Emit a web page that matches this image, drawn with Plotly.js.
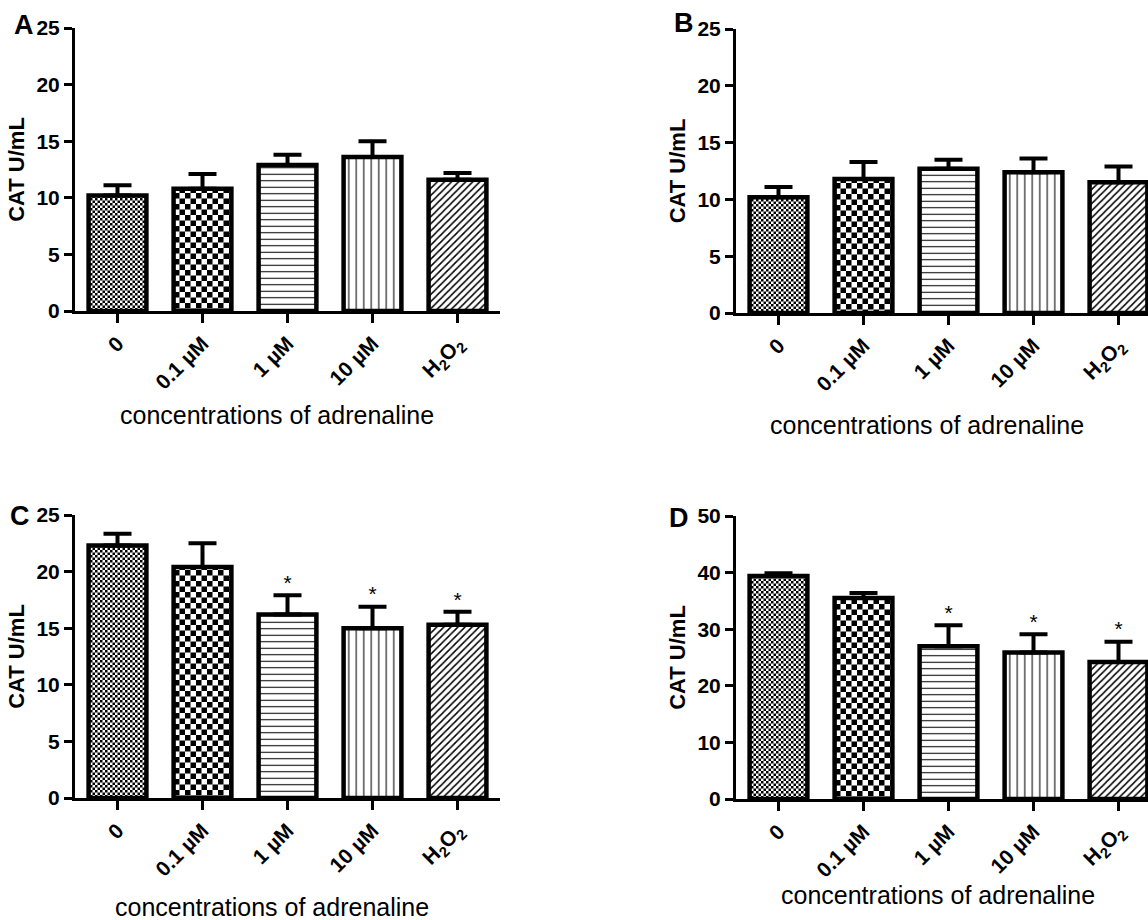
<!DOCTYPE html>
<html>
<head>
<meta charset="utf-8">
<script src="https://cdn.plot.ly/plotly-3.0.1.min.js"></script>
<style>html,body{margin:0;padding:0;background:#fff;}#chart{width:1148px;height:920px;}</style>
</head>
<body>
<div id="chart"></div>
<script>
// ---- data ----
const categories = ["0", "0.1 µM", "1 µM", "10 µM", "H<sub>2</sub>O<sub>2</sub>"];
const panelA_mean = [10.2, 10.8, 12.9, 13.6, 11.6];
const panelA_sem  = [0.9, 1.3, 0.9, 1.4, 0.6];
const panelB_mean = [10.2, 11.8, 12.7, 12.4, 11.5];
const panelB_sem  = [0.9, 1.5, 0.8, 1.2, 1.4];
const panelC_mean = [22.3, 20.4, 16.2, 15.0, 15.3];
const panelC_sem  = [1.05, 2.1, 1.7, 1.9, 1.15];
const panelD_mean = [39.4, 35.5, 27.0, 25.9, 24.2];
const panelD_sem  = [0.5, 0.9, 3.7, 3.2, 3.6];
const panelC_sig  = ["", "", "*", "*", "*"];
const panelD_sig  = ["", "", "*", "*", "*"];
const panelLetters = ["A", "B", "C", "D"];
const yTitle = "CAT U/mL";
const xTitle = "concentrations of adrenaline";

// ---- styling ----
const FONT = "Liberation Sans, Arial, Helvetica, sans-serif";
const patShapes = [".", ".", "-", "|", "/"];
const patSizes = [5, 11, 6.5, 7.5, 5];
const patSolid = [0.5, 0.5, 0.16, 0.14, 0.3];

function barTrace(mean, sem, xa, ya) {
  return {
    type: "bar", x: categories, y: mean, xaxis: xa, yaxis: ya,
    width: 0.68,
    marker: {
      color: "white",
      line: {color: "black", width: 4.5},
      pattern: {shape: patShapes, size: patSizes, solidity: patSolid,
                fgcolor: "black", bgcolor: "white", fillmode: "replace"}
    },
    error_y: {type: "data", symmetric: false, array: sem,
              arrayminus: sem.map(() => 0), color: "black", thickness: 4, width: 14},
    showlegend: false, hoverinfo: "skip"
  };
}
function starTrace(mean, sem, sig, xa, ya) {
  return {
    type: "scatter", mode: "text", x: categories,
    y: mean.map((m, i) => m + sem[i]), text: sig,
    textposition: "top center",
    textfont: {family: FONT, size: 21, color: "black"},
    xaxis: xa, yaxis: ya, showlegend: false, hoverinfo: "skip", cliponaxis: false
  };
}

const data = [
  barTrace(panelA_mean, panelA_sem, "x", "y"),
  barTrace(panelB_mean, panelB_sem, "x2", "y2"),
  barTrace(panelC_mean, panelC_sem, "x3", "y3"),
  starTrace(panelC_mean, panelC_sem, panelC_sig, "x3", "y3"),
  barTrace(panelD_mean, panelD_sem, "x4", "y4"),
  starTrace(panelD_mean, panelD_sem, panelD_sig, "x4", "y4")
];

const W = 1148, H = 920;
function px(v) { return v / W; }
function py(v) { return 1 - v / H; }

function xAxis(x0, x1, rmax, anchor) {
  return {
    domain: [px(x0), px(x1)], range: [-0.5, rmax], anchor: anchor,
    type: "category", showline: true, linecolor: "black", linewidth: 3,
    ticks: "outside", ticklen: 9, tickwidth: 3, tickcolor: "black",
    tickangle: -45, showgrid: false, zeroline: false, fixedrange: true,
    tickfont: {family: FONT, size: 21, color: "black", weight: "bold"}
  };
}
function yAxis(y0, y1, rmax, dtick, anchor) {
  return {
    domain: [py(y0), py(y1)], range: [0, rmax], anchor: anchor,
    showline: true, linecolor: "black", linewidth: 3,
    ticks: "outside", ticklen: 8, tickwidth: 3, tickcolor: "black",
    dtick: dtick, tick0: 0, showgrid: false, zeroline: false, fixedrange: true,
    tickfont: {family: FONT, size: 21, color: "black", weight: "bold"},
    title: {text: yTitle, standoff: 6,
            font: {family: FONT, size: 22, color: "black", weight: "bold"}}
  };
}

const layout = {
  width: W, height: H,
  margin: {l: 0, r: 0, t: 0, b: 0},
  paper_bgcolor: "white", plot_bgcolor: "white",
  bargap: 0.3,
  xaxis:  xAxis(75, 500, 4.5, "y"),
  yaxis:  yAxis(311, 28, 25, 5, "x"),
  xaxis2: xAxis(736, 1148, 4.347, "y2"),
  yaxis2: yAxis(313, 29, 25, 5, "x2"),
  xaxis3: xAxis(75, 500, 4.5, "y3"),
  yaxis3: yAxis(798, 515, 25, 5, "x3"),
  xaxis4: xAxis(736, 1148, 4.347, "y4"),
  yaxis4: yAxis(799, 516, 50, 10, "x4"),
  annotations: [
    {text: panelLetters[0], x: px(24), y: py(25)},
    {text: panelLetters[1], x: px(684), y: py(23)},
    {text: panelLetters[2], x: px(20), y: py(516)},
    {text: panelLetters[3], x: px(679), y: py(518)}
  ].map(a => Object.assign(a, {xref: "paper", yref: "paper", showarrow: false,
      xanchor: "center", yanchor: "middle",
      font: {family: FONT, size: 27, color: "black", weight: "bold"}})).concat([
    {text: xTitle, x: px(277), y: py(415)},
    {text: xTitle, x: px(927), y: py(425)},
    {text: xTitle, x: px(272), y: py(907)},
    {text: xTitle, x: px(938), y: py(895)}
  ].map(a => Object.assign(a, {xref: "paper", yref: "paper", showarrow: false,
      xanchor: "center", yanchor: "middle",
      font: {family: FONT, size: 25, color: "black"}})))
};

Plotly.newPlot("chart", data, layout, {staticPlot: true, displayModeBar: false}).then(gd => {
  // turn the library's dot patterns into checkerboards (same tile size)
  const NS = "http://www.w3.org/2000/svg";
  gd.querySelectorAll("pattern circle").forEach(c => {
    const p = c.parentNode;
    const s = parseFloat(p.getAttribute("width"));
    const fill = c.getAttribute("fill") || c.style.fill || "black";
    [[0, 0], [s / 2, s / 2]].forEach(([x, y]) => {
      const r = document.createElementNS(NS, "rect");
      r.setAttribute("x", x); r.setAttribute("y", y);
      r.setAttribute("width", s / 2); r.setAttribute("height", s / 2);
      r.setAttribute("fill", fill);
      p.appendChild(r);
    });
    p.removeChild(c);
  });
});
</script>
</body>
</html>
